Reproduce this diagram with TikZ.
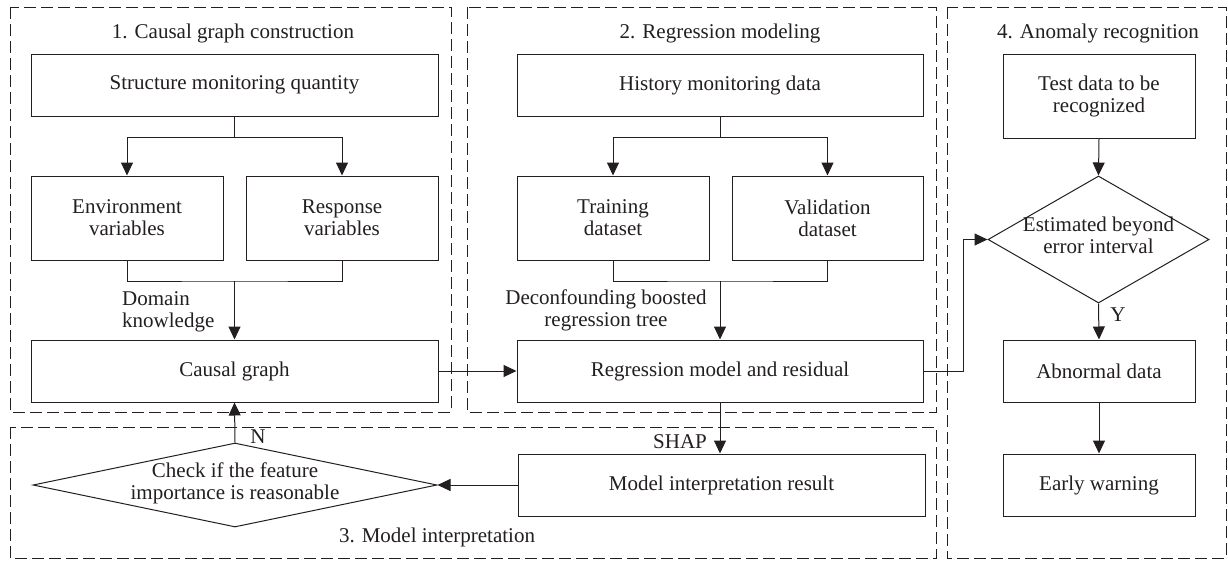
\documentclass[tikz,border=0pt]{standalone}
\usepackage{fontspec}
\setmainfont{Liberation Serif}
\usetikzlibrary{shapes.geometric,arrows.meta}
\definecolor{ink}{RGB}{35,31,32}
\tikzset{
  panel/.style={draw=ink, line width=0.9pt, dash pattern=on 12pt off 5pt},
  box/.style={draw=ink, line width=1pt, align=center, inner sep=2pt, font=\fontsize{21}{22}\selectfont, text=ink},
  dia/.style={draw=ink, line width=1pt, diamond, inner sep=0pt, font=\fontsize{21}{22}\selectfont, text=ink},
  lbl/.style={font=\fontsize{21}{22}\selectfont, text=ink, inner sep=0pt},
  conn/.style={draw=ink, line width=1pt},
  arr/.style={conn, -{Triangle[length=13pt,width=12pt]}},
}
\newcommand{\dtext}[1]{\smash{\raisebox{-0.2em}{\makebox[0pt]{\begin{tabular}{@{}c@{}}#1\end{tabular}}}}}
\begin{document}
\begin{tikzpicture}[x=1pt,y=-1pt]
\useasboundingbox (0,0) rectangle (1228,560);
\fill[white] (0,0) rectangle (1228,560);
% panels
\draw[panel] (10,7) rectangle (451,412);
\draw[panel] (467,7) rectangle (936,412);
\draw[panel] (10,427) rectangle (936,558);
\draw[panel] (947,7) rectangle (1226,558);
% titles
\node[lbl] (t1) at (233,33) {1. Causal graph construction};
\node[lbl] (t2) at (720,33) {2. Regression modeling};
\node[lbl] (t3) at (437,537) {3. Model interpretation};
\node[lbl] (t4) at (1098,33) {4. Anomaly recognition};
% panel 1
\node[box, minimum width=407, minimum height=62] (s1) at (234.5,85) {Structure monitoring quantity};
\node[box, minimum width=192, minimum height=84] (env) at (127,218) {Environment\\variables};
\node[box, minimum width=192, minimum height=84] (resp) at (342,218) {Response\\variables};
\node[box, minimum width=407, minimum height=62] (cg) at (234.5,371) {Causal graph};
% panel 2
\node[box, minimum width=406, minimum height=62] (hist) at (720,85) {History monitoring data};
\node[box, minimum width=192, minimum height=84] (train) at (613,218) {Training\\dataset};
\node[box, minimum width=191, minimum height=84] (valid) at (827.5,218) {Validation\\dataset};
\node[box, minimum width=406, minimum height=62] (reg) at (720,371) {Regression model and residual};
% panel 3
\node[box, minimum width=407, minimum height=62] (mir) at (721.5,485) {Model interpretation result};
\node[dia, minimum width=404, minimum height=84] (chk) at (235,485) {\dtext{Check if the feature\\importance is reasonable}};
% panel 4
\node[box, minimum width=192, minimum height=84] (test) at (1099,96) {Test data to be\\recognized};
\node[dia, minimum width=221, minimum height=127] (est) at (1098.5,239.5) {\dtext{Estimated beyond\\error interval}};
\node[box, minimum width=192, minimum height=62] (abn) at (1099,371) {Abnormal data};
\node[box, minimum width=192, minimum height=62] (ew) at (1099,485) {Early warning};
% labels
\node[lbl, align=left, anchor=west] (dk) at (122,312) {Domain\\knowledge};
\node[lbl, align=center] (dbrt) at (606,310) {Deconfounding boosted\\regression tree};
\node[lbl] (shap) at (680,442) {SHAP};
\node[lbl] (nlab) at (258,437) {N};
\node[lbl] (ylab) at (1118,315) {Y};
% connectors panel 1
\coordinate (b1) at (234.5,137);
\coordinate (m1) at (234.5,281);
\draw[conn] (s1.south) -- (b1);
\draw[arr] (b1) -| (env.north);
\draw[arr] (b1) -| (resp.north);
\draw[conn] (env.south) |- (m1) -| (resp.south);
\draw[arr] (m1) -- (cg.north);
% connectors panel 2
\coordinate (b2) at (720,137);
\coordinate (m2) at (720,281);
\draw[conn] (hist.south) -- (b2);
\draw[arr] (b2) -| (train.north);
\draw[arr] (b2) -| (valid.north);
\draw[conn] (train.south) |- (m2) -| (valid.south);
\draw[arr] (m2) -- (reg.north);
% cross connectors
\draw[arr] (cg.east) -- (reg.west);
\coordinate (r1) at (963,371);
\draw[arr] (reg.east) -- (r1) |- (est.west);
\draw[arr] (reg.south) -- (reg.south |- mir.north);
\draw[arr] (mir.west) -- (chk.east);
\draw[arr] (chk.north) -- (cg.south);
% panel 4
\draw[arr] (test.south) -- (est.north);
\draw[arr] (est.south) -- (abn.north);
\draw[arr] (abn.south) -- (ew.north);
\end{tikzpicture}
\end{document}
